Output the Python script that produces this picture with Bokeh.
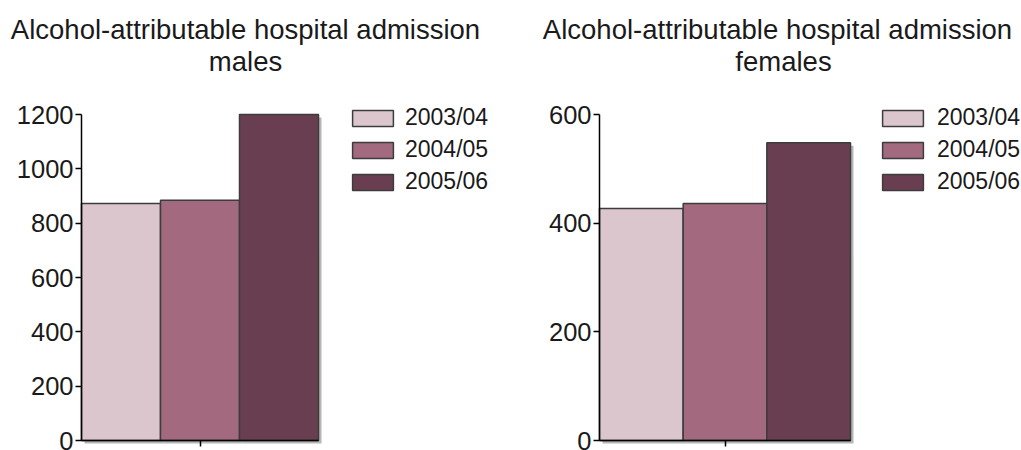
from bokeh.plotting import figure
from bokeh.models import (ColumnDataSource, Legend, LegendItem, Label, FixedTicker,
                          LinearAxis, Range1d)
from bokeh.layouts import row
from bokeh.embed import file_html
from bokeh.resources import INLINE

categories = ["2003/04", "2004/05", "2005/06"]
males = [872, 884, 1200]
females = [427, 436, 548]
colors = ["#DCC6CE", "#A3697F", "#6A3E51"]
title_line1 = "Alcohol-attributable hospital admission"
male_ticks = [0, 200, 400, 600, 800, 1000, 1200]
female_ticks = [0, 200, 400, 600]

FONT = "Liberation Sans"
TXT = "#1a1a1a"
H = 450
AXIS_TOP, AXIS_BOTTOM = 114, 440   # pixel rows of the y-axis extent
SHADOW = 3                         # drop shadow offset in px


def make_panel(values, ymax, ticks, subtitle, W, ax_left, ax_right,
               title_cx, sub_cx, legend_x, standoff):
    n = len(categories)
    sx = (ax_right - ax_left) / n
    sy = (AXIS_BOTTOM - AXIS_TOP) / ymax
    p = figure(width=W, height=H,
               min_border=0, min_border_left=0, min_border_right=0,
               min_border_top=0, min_border_bottom=0,
               x_range=Range1d(-ax_left / sx, (W - ax_left) / sx),
               y_range=Range1d(-(H - AXIS_BOTTOM) / sy, ymax + AXIS_TOP / sy),
               output_backend="svg", toolbar_location=None,
               x_axis_location=None, y_axis_location=None)
    p.outline_line_color = None
    p.xgrid.visible = False
    p.ygrid.visible = False
    p.background_fill_color = "white"
    p.border_fill_color = "white"

    xs = [i + 0.5 for i in range(n)]
    shadow = ColumnDataSource(dict(x=[x + SHADOW / sx for x in xs],
                                   top=[v - SHADOW / sy for v in values],
                                   bottom=[-SHADOW / sy] * n))
    p.vbar(x="x", top="top", bottom="bottom", width=1.0, source=shadow,
           fill_color="#7a7a7a", fill_alpha=0.55, line_color=None)

    src = ColumnDataSource(dict(x=xs, top=values, cat=categories, color=colors))
    r = p.vbar(x="x", top="top", width=1.0, bottom=0, source=src,
               fill_color="color", line_color="#3c3c3c", line_width=1.5)

    yax = LinearAxis(ticker=FixedTicker(ticks=ticks), fixed_location=0, bounds=(0, ymax))
    yax.major_label_text_font = FONT
    yax.major_label_text_font_size = "25.5px"
    yax.major_label_text_color = TXT
    yax.major_tick_out = 6
    yax.major_tick_in = 0
    yax.minor_tick_line_color = None
    yax.axis_line_color = "black"
    yax.axis_line_width = 1.5
    yax.major_tick_line_width = 1.5
    yax.major_label_standoff = 2
    p.add_layout(yax, "left")

    xax = LinearAxis(ticker=FixedTicker(ticks=[n / 2]), fixed_location=0, bounds=(0, n))
    xax.major_label_text_font_size = "0px"
    xax.major_label_text_color = None
    xax.major_tick_out = 6
    xax.major_tick_in = 0
    xax.minor_tick_line_color = None
    xax.axis_line_color = "black"
    xax.axis_line_width = 1.5
    xax.major_tick_line_width = 1.5
    xax.major_label_standoff = 0
    p.add_layout(xax, "below")

    items = [LegendItem(label=c, renderers=[r], index=i) for i, c in enumerate(categories)]
    leg = Legend(items=items, location=(legend_x, 255), padding=0, margin=0,
                 glyph_width=51, glyph_height=20, label_height=24, spacing=5,
                 label_standoff=standoff, label_text_font=FONT,
                 label_text_font_size="23px", label_text_color=TXT,
                 border_line_color=None, background_fill_alpha=0)
    p.add_layout(leg, "center")

    for txt, cx, base in [(title_line1, title_cx, 29), (subtitle, sub_cx, 61)]:
        p.add_layout(Label(x=cx, y=H - base, x_units="screen", y_units="screen",
                           text=txt, text_align="center", text_baseline="alphabetic",
                           text_font=FONT, text_font_size="27.5px", text_color=TXT))
    return p


p1 = make_panel(males, 1200, male_ticks, "males", 510, 81, 318, 245, 245, 347, 7)
p2 = make_panel(females, 600, female_ticks, "females", 511, 89, 340, 267, 273, 367, 9)

layout = row(p1, p2)
open("out.html", "w").write(file_html(layout, INLINE))
